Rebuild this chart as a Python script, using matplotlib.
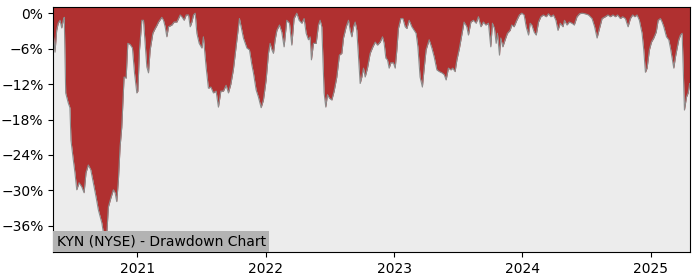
import numpy as np
import pandas as pd
import matplotlib
matplotlib.use("Agg")
import matplotlib.pyplot as plt
import matplotlib.dates as mdates
from matplotlib.ticker import MultipleLocator, PercentFormatter

# time as decimal years, drawdown in percent
years = [
    2020.345, 2020.359, 2020.372, 2020.384, 2020.398, 2020.411, 2020.423, 2020.431,
    2020.442, 2020.462, 2020.475, 2020.483, 2020.501, 2020.514, 2020.528, 2020.546,
    2020.567, 2020.585, 2020.600, 2020.618, 2020.637, 2020.657, 2020.678, 2020.696,
    2020.723, 2020.740, 2020.748, 2020.762, 2020.774, 2020.793, 2020.813, 2020.826,
    2020.839, 2020.852, 2020.865, 2020.878, 2020.896, 2020.912, 2020.925, 2020.943,
    2020.961, 2020.977, 2020.995, 2021.003, 2021.016, 2021.034, 2021.047, 2021.060,
    2021.073, 2021.086, 2021.099, 2021.120, 2021.138, 2021.151, 2021.164, 2021.190,
    2021.203, 2021.216, 2021.229, 2021.242, 2021.268, 2021.286, 2021.307, 2021.320,
    2021.333, 2021.346, 2021.364, 2021.380, 2021.398, 2021.411, 2021.424, 2021.437,
    2021.450, 2021.463, 2021.481, 2021.502, 2021.514, 2021.535, 2021.553, 2021.572,
    2021.592, 2021.613, 2021.631, 2021.650, 2021.670, 2021.691, 2021.709, 2021.728,
    2021.748, 2021.775, 2021.795, 2021.814, 2021.826, 2021.853, 2021.873, 2021.892,
    2021.904, 2021.925, 2021.943, 2021.964, 2021.982, 2022.003, 2022.021, 2022.034,
    2022.048, 2022.060, 2022.073, 2022.087, 2022.107, 2022.125, 2022.143, 2022.164,
    2022.185, 2022.203, 2022.221, 2022.242, 2022.260, 2022.281, 2022.299, 2022.315,
    2022.333, 2022.346, 2022.356, 2022.372, 2022.393, 2022.411, 2022.424, 2022.437,
    2022.455, 2022.468, 2022.481, 2022.497, 2022.515, 2022.533, 2022.554, 2022.574,
    2022.593, 2022.606, 2022.627, 2022.645, 2022.658, 2022.671, 2022.684, 2022.697,
    2022.710, 2022.723, 2022.736, 2022.749, 2022.762, 2022.775, 2022.793, 2022.814,
    2022.835, 2022.853, 2022.871, 2022.892, 2022.910, 2022.923, 2022.936, 2022.949,
    2022.962, 2022.975, 2022.995, 2023.009, 2023.022, 2023.034, 2023.053, 2023.069,
    2023.087, 2023.100, 2023.118, 2023.139, 2023.157, 2023.172, 2023.186, 2023.203,
    2023.221, 2023.235, 2023.250, 2023.274, 2023.295, 2023.313, 2023.334, 2023.354,
    2023.373, 2023.391, 2023.406, 2023.424, 2023.443, 2023.458, 2023.476, 2023.490,
    2023.510, 2023.528, 2023.546, 2023.567, 2023.580, 2023.599, 2023.619, 2023.640,
    2023.658, 2023.677, 2023.697, 2023.715, 2023.736, 2023.754, 2023.767, 2023.783,
    2023.796, 2023.806, 2023.822, 2023.832, 2023.848, 2023.866, 2023.884, 2023.905,
    2023.918, 2023.936, 2023.957, 2023.977, 2023.996, 2024.014, 2024.030, 2024.048,
    2024.061, 2024.074, 2024.092, 2024.108, 2024.126, 2024.144, 2024.164, 2024.186,
    2024.203, 2024.222, 2024.242, 2024.261, 2024.277, 2024.295, 2024.316, 2024.328,
    2024.347, 2024.365, 2024.386, 2024.404, 2024.425, 2024.445, 2024.464, 2024.489,
    2024.515, 2024.542, 2024.562, 2024.581, 2024.596, 2024.620, 2024.645, 2024.666,
    2024.684, 2024.705, 2024.723, 2024.741, 2024.762, 2024.780, 2024.801, 2024.822,
    2024.840, 2024.858, 2024.874, 2024.892, 2024.910, 2024.931, 2024.944, 2024.957,
    2024.970, 2024.988, 2025.004, 2025.022, 2025.041, 2025.056, 2025.074, 2025.087,
    2025.100, 2025.121, 2025.139, 2025.152, 2025.165, 2025.178, 2025.191, 2025.204,
    2025.217, 2025.230, 2025.243, 2025.251, 2025.261, 2025.277, 2025.290, 2025.302,
    2025.306,
]
drawdown = [
    -3.4, -6.6, -2.9, -1.7, -1.2, -2.5, -1.2, -0.7,
    -13.5, -15.2, -16.0, -21.5, -24.8, -27.0, -29.9, -28.7,
    -29.4, -30.4, -27.0, -25.7, -26.5, -28.7, -31.1, -33.3,
    -35.5, -37.8, -40.0, -37.2, -32.8, -31.3, -29.9, -30.4,
    -31.9, -28.2, -22.6, -19.3, -10.8, -11.0, -5.1, -5.3,
    -5.9, -10.1, -13.5, -13.2, -6.2, -1.2, -1.2, -5.1,
    -9.1, -10.1, -6.2, -3.4, -2.6, -2.1, -1.5, -0.7,
    -1.2, -2.3, -4.0, -2.3, -2.0, -1.5, -1.5, -0.9,
    -0.3, -0.6, -1.2, -0.3, -0.3, -2.3, -1.5, -0.3,
    0.0, -3.4, -5.1, -5.9, -4.0, -9.1, -12.7, -12.5,
    -13.5, -13.2, -15.9, -13.2, -13.2, -12.2, -13.5, -12.0,
    -9.5, -4.5, -0.9, -2.9, -4.2, -5.9, -6.2, -8.8,
    -10.1, -13.0, -14.2, -16.0, -14.7, -11.3, -6.8, -5.1,
    -6.2, -6.8, -4.5, -2.9, -2.0, -3.2, -5.7, -1.2,
    -1.7, -5.4, -0.9, 0.0, -1.2, -1.7, -0.9, -3.4,
    -4.5, -4.0, -7.9, -5.1, -5.1, -2.0, -1.2, -2.3,
    -13.5, -15.9, -13.8, -14.4, -14.7, -13.2, -10.8, -7.1,
    -6.8, -4.2, -2.3, -1.2, -2.9, -4.0, -2.3, -1.5,
    -2.9, -7.4, -11.9, -10.8, -9.3, -10.8, -9.3, -6.8,
    -5.7, -4.9, -5.4, -4.9, -4.0, -5.1, -7.6, -7.9,
    -9.3, -8.4, -8.4, -9.3, -6.2, -2.6, -0.9, -0.9,
    -2.3, -2.6, -1.2, -2.3, -2.9, -3.4, -5.7, -10.8,
    -12.5, -9.3, -6.2, -4.5, -5.9, -7.4, -9.6, -9.9,
    -10.1, -10.4, -11.3, -9.3, -9.6, -9.3, -9.9, -7.9,
    -5.9, -3.7, -1.5, -2.3, -3.7, -1.5, -1.2, -1.7,
    -0.6, -2.3, -1.5, -2.0, -1.7, -5.7, -1.7, -2.6,
    -5.1, -3.4, -7.1, -4.2, -5.7, -4.5, -3.4, -2.9,
    -2.0, -2.3, -1.2, -0.3, 0.0, -0.3, -2.3, -3.7,
    -1.7, -2.0, -3.2, -3.7, -1.5, -0.6, -0.3, -0.6,
    -0.1, -0.6, -0.3, -1.2, -2.9, -1.7, -2.3, -1.2,
    -2.0, -1.5, -1.7, -2.0, -0.6, -0.1, 0.0, -0.1,
    -0.3, -0.9, -2.3, -4.2, -2.9, -0.9, -0.6, -0.3,
    -0.6, -0.3, -0.6, -0.3, -0.9, -0.6, -0.9, -2.3,
    -0.9, -0.3, -0.6, -0.3, -1.2, -3.4, -6.2, -10.0,
    -9.3, -6.2, -4.9, -4.2, -3.2, -1.2, -0.9, -1.5,
    -2.3, -4.0, -4.5, -5.9, -7.6, -9.3, -7.4, -5.9,
    -4.5, -3.7, -3.4, -8.8, -16.4, -14.2, -13.5, -11.9,
    -12.0,
]
title = "KYN (NYSE) - Drawdown Chart"


def to_date(y):
    yr = int(y)
    start = pd.Timestamp(yr, 1, 1)
    length = (pd.Timestamp(yr + 1, 1, 1) - start).days
    return start + pd.Timedelta(days=(y - yr) * length)


dates = [to_date(y) for y in years]
dd = np.array(drawdown)

fig = plt.figure(figsize=(7, 2.8), dpi=100)
ax = fig.add_axes([0.076, 0.099, 0.91, 0.875])
ax.set_facecolor("#ececec")

top = 1.0
bottom = dd.min() * 1.012
ax.fill_between(dates, dd, top, color="#b03030", lw=0)
ax.plot(dates, dd, color="#8c8c8c", lw=0.8)

ax.set_xlim(dates[0], dates[-1])
ax.set_ylim(bottom, top)
ax.yaxis.set_major_locator(MultipleLocator(6))
ax.yaxis.set_major_formatter(PercentFormatter(decimals=0))
ax.xaxis.set_major_locator(mdates.YearLocator())
ax.xaxis.set_major_formatter(mdates.DateFormatter("%Y"))

# label box sits in the lower left corner, flush with the spines
ax.text(0.0055, 0.016, title, transform=ax.transAxes, ha="left", va="bottom",
        fontsize=10, color="black",
        bbox=dict(facecolor="#b3b3b3", edgecolor="none", pad=2.6))

fig.savefig("out.png", dpi=100)
